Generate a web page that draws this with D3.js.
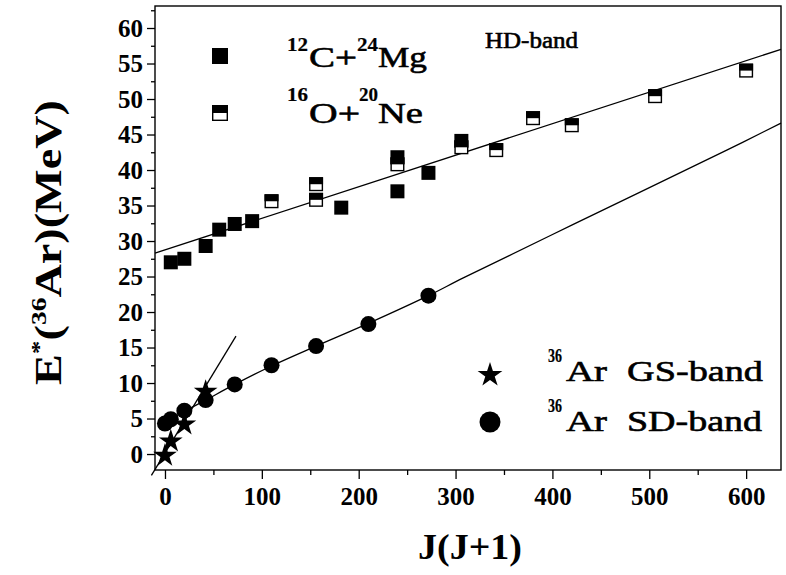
<!DOCTYPE html>
<html><head><meta charset="utf-8">
<script src="https://cdn.jsdelivr.net/npm/d3@7"></script>
<style>
html,body{margin:0;padding:0;background:#fff;}
svg{display:block;}
</style>
</head><body>
<svg id="chart" width="786" height="575"></svg>
<script>
// ---------------- data ----------------
const xTickValues = [0, 100, 200, 300, 400, 500, 600];
const xMinorTicks = [50, 150, 250, 350, 450, 550];
const yTickValues = [0, 5, 10, 15, 20, 25, 30, 35, 40, 45, 50, 55, 60];
const yMinorTicks = [2.5, 7.5, 12.5, 17.5, 22.5, 27.5, 32.5, 37.5, 42.5, 47.5, 52.5, 57.5, 62.5];

// 12C+24Mg (filled squares)
const c12mg24 = [[6,27.0],[20,27.5],[42,29.3],[56,31.6],[72,32.4],[90,32.8],[182,34.7],[240,37.0],[240,41.8],[272,39.6],[306,44.1]];
// 16O+20Ne (half-filled squares)
const o16ne20 = [[110,35.6],[156,38.0],[156,35.8],[240,40.8],[306,43.2],[342,42.8],[380,47.3],[420,46.3],[506,50.4],[600,54.0]];
// 36Ar GS-band (stars)
const gsBand = [[0,0.0],[6,2.0],[20,4.4],[42,9.0]];
// 36Ar SD-band (circles)
const sdBand = [[0,4.3],[6,4.9],[20,6.1],[42,7.6],[72,9.8],[110,12.5],[156,15.2],[210,18.3],[272,22.3]];

// fitted lines
const hdFit = [[-10.3,28.3],[636,57.0]];
const sdFit = [[0,4.5],[20,6.0],[42,7.6],[72,9.8],[110,12.4],[156,15.2],[210,18.4],[272,22.3],[308,24.8],[421,32.3],[580,42.8],[636,46.6]];
const gsFit = [[-14,-3.0],[73.3,16.6]];

// ---------------- chart ----------------
const FONT = '"Liberation Serif","Times New Roman",Times,serif';
const svg = d3.select("#chart");
const L = 155, R = 781, T = 6, B = 470;
const x = d3.scaleLinear().domain([-10.3, 636]).range([L, R]);
const y = d3.scaleLinear().domain([-2.25, 63.1]).range([B, T]);

svg.append("rect").attr("x",0).attr("y",0).attr("width",786).attr("height",575).attr("fill","#fff");

// axes
const gx = svg.append("g").attr("transform",`translate(0,${B})`)
  .call(d3.axisBottom(x).tickValues(xTickValues).tickSize(9).tickSizeOuter(0).tickPadding(8).tickFormat(d3.format("d")));
gx.select(".domain").remove();
gx.selectAll("line").attr("stroke-width",1.3);
gx.selectAll("text").attr("font-size",25).attr("font-weight","bold").attr("font-family",FONT);
const gxm = svg.append("g").attr("transform",`translate(0,${B})`)
  .call(d3.axisBottom(x).tickValues(xMinorTicks).tickSize(5).tickSizeOuter(0).tickFormat(""));
gxm.select(".domain").remove();
gxm.selectAll("line").attr("stroke-width",1.3);

const gy = svg.append("g").attr("transform",`translate(${L},0)`)
  .call(d3.axisLeft(y).tickValues(yTickValues).tickSize(8).tickSizeOuter(0).tickPadding(4).tickFormat(d3.format("d")));
gy.select(".domain").remove();
gy.selectAll("line").attr("stroke-width",1.3);
gy.selectAll("text").attr("font-size",25).attr("font-weight","bold").attr("font-family",FONT);
const gym = svg.append("g").attr("transform",`translate(${L},0)`)
  .call(d3.axisLeft(y).tickValues(yMinorTicks).tickSize(4).tickSizeOuter(0).tickFormat(""));
gym.select(".domain").remove();
gym.selectAll("line").attr("stroke-width",1.3);

// frame
svg.append("rect").attr("x",L).attr("y",T).attr("width",R-L).attr("height",B-T)
  .attr("fill","none").attr("stroke","#000").attr("stroke-width",1.4);

// fit lines
svg.append("path").datum(hdFit).attr("d",d3.line().x(d=>x(d[0])).y(d=>y(d[1])))
  .attr("fill","none").attr("stroke","#000").attr("stroke-width",1.3);
svg.append("path").datum(sdFit).attr("d",d3.line().x(d=>x(d[0])).y(d=>y(d[1])).curve(d3.curveCatmullRom))
  .attr("fill","none").attr("stroke","#000").attr("stroke-width",1.3);
svg.append("path").datum(gsFit).attr("d",d3.line().x(d=>x(d[0])).y(d=>y(d[1])))
  .attr("fill","none").attr("stroke","#000").attr("stroke-width",1.3);

// symbol helpers
function filledSquare(g, cx, cy, s){
  g.append("rect").attr("x",cx-s/2).attr("y",cy-s/2).attr("width",s).attr("height",s).attr("fill","#000");
}
function halfSquare(g, cx, cy, s){
  g.append("rect").attr("x",cx-s/2+0.7).attr("y",cy-s/2+0.7).attr("width",s-1.4).attr("height",s-1.4)
    .attr("fill","#fff").attr("stroke","#000").attr("stroke-width",1.4);
  g.append("rect").attr("x",cx-s/2).attr("y",cy-s/2).attr("width",s).attr("height",s/2).attr("fill","#000");
}
const star = d3.symbol().type(d3.symbolStar);

const gSym = svg.append("g");
gsBand.forEach(d => gSym.append("path").attr("d",star.size(175)()).attr("transform",`translate(${x(d[0])},${y(d[1])+1.5})`).attr("fill","#000"));
sdBand.forEach(d => gSym.append("circle").attr("cx",x(d[0])).attr("cy",y(d[1])).attr("r",8).attr("fill","#000"));
c12mg24.forEach(d => filledSquare(gSym, x(d[0]), y(d[1]), 14));
o16ne20.forEach(d => halfSquare(gSym, x(d[0]), y(d[1]), 14));

// legend
filledSquare(svg, 220, 56, 16);
halfSquare(svg, 220, 113, 16);
svg.append("path").attr("d",star.size(190)()).attr("transform","translate(490,375)").attr("fill","#000");
svg.append("circle").attr("cx",490).attr("cy",422).attr("r",10.5).attr("fill","#000");

function txt(str, xx, yy, size, width, weight){
  const t = svg.append("text").attr("x",xx).attr("y",yy).attr("font-size",size)
    .attr("font-weight",weight||"normal").attr("font-family",FONT).attr("fill","#000")
    .attr("stroke","#000").attr("stroke-width",weight==="bold"?0.2:0.6).text(str);
  if (width) t.attr("textLength",width).attr("lengthAdjust","spacingAndGlyphs");
  return t;
}
// 12C+24Mg
txt("12", 287, 50.5, 18, 21, "bold");
txt("C+", 309, 67, 30, 48);
txt("24", 357, 50.5, 18, 21, "bold");
txt("Mg", 378, 67, 30, 49);
// 16O+20Ne
txt("16", 287, 101, 18, 21, "bold");
txt("O+", 309, 122.5, 30, 51);
txt("20", 359, 101, 18, 19, "bold");
txt("Ne", 378, 122.5, 30, 45);
// HD-band
txt("HD-band", 485, 48, 23, 93);
// 36Ar GS-band
txt("36", 548, 362, 18, 14, "bold");
txt("Ar", 566, 381, 30, 41);
txt("GS-band", 627, 381, 30, 136);
// 36Ar SD-band
txt("36", 548, 412, 18, 14, "bold");
txt("Ar", 566, 430.5, 30, 41);
txt("SD-band", 627, 430.5, 30, 135);

// axis titles
svg.append("text").attr("x",418).attr("y",559)
  .attr("font-size",35).attr("font-weight","bold").attr("font-family",FONT)
  .attr("textLength",104).attr("lengthAdjust","spacingAndGlyphs").text("J(J+1)");

const yt = svg.append("text").attr("transform","translate(61,385) rotate(-90)")
  .attr("font-size",37).attr("font-weight","bold").attr("font-family",FONT)
  .attr("textLength",285).attr("lengthAdjust","spacingAndGlyphs");
yt.append("tspan").text("E");
yt.append("tspan").attr("font-size",22).attr("dy",-15).text("*");
yt.append("tspan").attr("dy",15).text("(");
yt.append("tspan").attr("font-size",22).attr("dy",-15).text("36");
yt.append("tspan").attr("dy",15).text("Ar)(MeV)");
</script>
</body></html>
